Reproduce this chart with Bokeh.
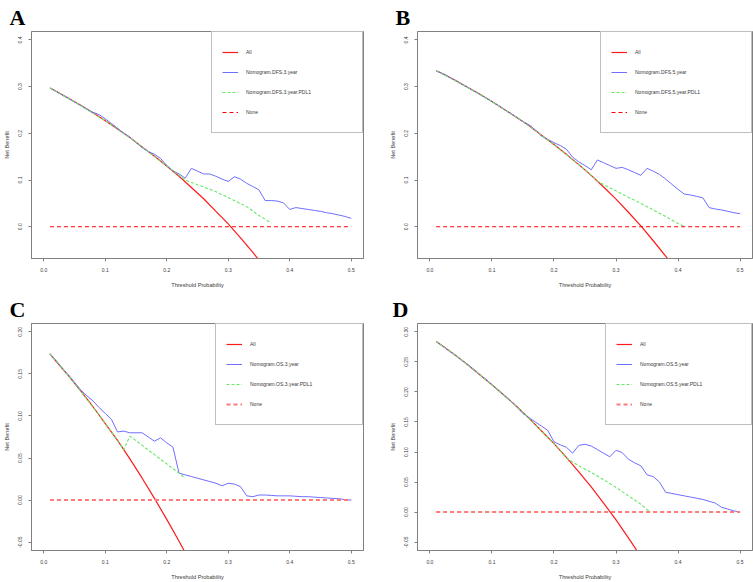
from bokeh.plotting import figure
from bokeh.layouts import gridplot
from bokeh.models import Range1d, FixedTicker, PrintfTickFormatter, Legend, LegendItem
from bokeh.embed import file_html
from bokeh.resources import INLINE

# ---------------- data ----------------
thresholds = [0.01, 0.02, 0.03, 0.04, 0.05, 0.06, 0.07, 0.08, 0.09, 0.10,
              0.11, 0.12, 0.13, 0.14, 0.15, 0.16, 0.17, 0.18, 0.19, 0.20,
              0.21, 0.22, 0.23, 0.24, 0.25, 0.26, 0.27, 0.28, 0.29, 0.30,
              0.31, 0.32, 0.33, 0.34, 0.35, 0.36, 0.37, 0.38, 0.39, 0.40,
              0.41, 0.42, 0.43, 0.44, 0.45, 0.46, 0.47, 0.48, 0.49, 0.50]

x_ticks = [0.0, 0.1, 0.2, 0.3, 0.4, 0.5]
none_x = [0.01, 0.50]
none_y = [0.0, 0.0]

# Panel A (DFS 3 year)
A_all_x = [0.01, 0.02, 0.04, 0.06, 0.08, 0.10, 0.12, 0.14, 0.16, 0.18, 0.20, 0.22, 0.24, 0.26, 0.28, 0.30, 0.32, 0.34, 0.36]
A_all_y = [0.297, 0.290, 0.275, 0.260, 0.244, 0.227, 0.209, 0.191, 0.171, 0.151, 0.130, 0.108, 0.084, 0.060, 0.033, 0.006, -0.024, -0.055, -0.088]
A_nom_y = [0.297, 0.290, 0.282, 0.275, 0.267, 0.260, 0.252, 0.245, 0.240, 0.231,
           0.221, 0.211, 0.200, 0.192, 0.180, 0.169, 0.161, 0.155, 0.146, 0.131,
           0.120, 0.113, 0.104, 0.125, 0.119, 0.113, 0.113, 0.108, 0.102, 0.097,
           0.107, 0.102, 0.093, 0.086, 0.079, 0.056, 0.056, 0.055, 0.051, 0.037,
           0.041, 0.039, 0.037, 0.035, 0.033, 0.030, 0.028, 0.025, 0.022, 0.018]
A_pdl_x = [0.01, 0.05, 0.10, 0.15, 0.20, 0.23, 0.25, 0.28, 0.31, 0.33, 0.35, 0.37]
A_pdl_y = [0.297, 0.267, 0.227, 0.181, 0.130, 0.100, 0.090, 0.075, 0.056, 0.043, 0.024, 0.008]
A_y_ticks = [0.0, 0.1, 0.2, 0.3, 0.4]

# Panel B (DFS 5 year)
B_all_x = [0.01, 0.02, 0.04, 0.06, 0.08, 0.10, 0.12, 0.14, 0.16, 0.18, 0.20, 0.22, 0.24, 0.26, 0.28, 0.30, 0.32, 0.34, 0.36, 0.38, 0.40]
B_all_y = [0.334, 0.328, 0.314, 0.299, 0.284, 0.268, 0.251, 0.234, 0.216, 0.196, 0.176, 0.155, 0.133, 0.110, 0.085, 0.059, 0.031, 0.002, -0.030, -0.063, -0.098]
B_nom_y = [0.334, 0.328, 0.321, 0.314, 0.306, 0.299, 0.291, 0.284, 0.276, 0.268,
           0.260, 0.251, 0.243, 0.234, 0.225, 0.218, 0.207, 0.194, 0.187, 0.180,
           0.174, 0.166, 0.149, 0.139, 0.131, 0.122, 0.143, 0.137, 0.131, 0.125,
           0.127, 0.122, 0.116, 0.110, 0.125, 0.119, 0.112, 0.102, 0.091, 0.080,
           0.070, 0.068, 0.065, 0.062, 0.041, 0.038, 0.036, 0.033, 0.030, 0.028]
B_pdl_x = [0.01, 0.05, 0.10, 0.15, 0.20, 0.24, 0.26, 0.27, 0.28, 0.30, 0.32, 0.34, 0.36, 0.38, 0.40, 0.41]
B_pdl_y = [0.334, 0.306, 0.268, 0.225, 0.176, 0.133, 0.110, 0.098, 0.090, 0.077, 0.063, 0.050, 0.036, 0.022, 0.007, 0.001]
B_y_ticks = [0.0, 0.1, 0.2, 0.3, 0.4]

# Panel C (OS 3 year)
C_all_x = [0.01, 0.02, 0.04, 0.06, 0.08, 0.10, 0.12, 0.14, 0.16, 0.18, 0.20, 0.22, 0.24]
C_all_y = [0.174, 0.165, 0.148, 0.130, 0.111, 0.091, 0.071, 0.049, 0.026, 0.002, -0.023, -0.049, -0.076]
C_nom_y = [0.174, 0.166, 0.157, 0.149, 0.140, 0.131, 0.124, 0.118, 0.110, 0.103,
           0.096, 0.081, 0.082, 0.080, 0.080, 0.080, 0.075, 0.070, 0.074, 0.068,
           0.063, 0.032, 0.030, 0.028, 0.026, 0.024, 0.022, 0.020, 0.017, 0.020,
           0.019, 0.016, 0.005, 0.004, 0.006, 0.006, 0.0055, 0.005, 0.005, 0.005,
           0.0045, 0.004, 0.004, 0.0035, 0.003, 0.0025, 0.002, 0.0015, 0.0005, 0.0]
C_pdl_x = [0.01, 0.03, 0.05, 0.07, 0.09, 0.11, 0.13, 0.14, 0.16, 0.18, 0.20, 0.22, 0.23]
C_pdl_y = [0.174, 0.157, 0.139, 0.120, 0.101, 0.081, 0.060, 0.076, 0.065, 0.054, 0.043, 0.032, 0.026]
C_y_ticks = [-0.05, 0.0, 0.05, 0.10, 0.15, 0.20]

# Panel D (OS 5 year)
D_all_x = [0.01, 0.02, 0.04, 0.06, 0.08, 0.10, 0.12, 0.14, 0.16, 0.18, 0.20, 0.22, 0.24, 0.26, 0.28, 0.30, 0.32, 0.34]
D_all_y = [0.284, 0.277, 0.262, 0.246, 0.229, 0.212, 0.194, 0.176, 0.156, 0.135, 0.114, 0.091, 0.067, 0.042, 0.015, -0.013, -0.043, -0.074]
D_nom_y = [0.284, 0.277, 0.269, 0.262, 0.254, 0.246, 0.238, 0.229, 0.221, 0.212,
           0.203, 0.194, 0.185, 0.175, 0.164, 0.157, 0.150, 0.143, 0.136, 0.117,
           0.112, 0.108, 0.098, 0.111, 0.113, 0.110, 0.104, 0.098, 0.092, 0.103,
           0.099, 0.088, 0.082, 0.077, 0.062, 0.059, 0.050, 0.033, 0.031, 0.029,
           0.027, 0.025, 0.023, 0.021, 0.018, 0.015, 0.008, 0.005, 0.002, 0.000]
D_pdl_x = [0.01, 0.05, 0.10, 0.15, 0.20, 0.22, 0.24, 0.26, 0.28, 0.30, 0.32, 0.34, 0.355]
D_pdl_y = [0.284, 0.254, 0.212, 0.166, 0.114, 0.090, 0.077, 0.066, 0.054, 0.041, 0.027, 0.013, 0.000]
D_y_ticks = [-0.05, 0.0, 0.05, 0.10, 0.15, 0.20, 0.25, 0.30]

FONT = "Liberation Sans"
GRAY = "#808080"
TXT = "#3a3a3a"


def panel(letter, all_x, all_y, nom_y, pdl_x, pdl_y, names, ylim, yticks, fmt,
          width, height, bl, br, bt, bb, title_off, none_color, none_width, legend_lw):
    p = figure(width=width, height=height, output_backend="svg", toolbar_location=None,
               x_range=Range1d(-0.02, 0.52), y_range=Range1d(*ylim),
               min_border_left=bl, min_border_right=br, min_border_top=bt, min_border_bottom=bb,
               title=letter)
    p.title.text_font = "Liberation Serif"
    p.title.text_font_style = "bold"
    p.title.text_font_size = "22px"
    p.title.text_color = "black"
    p.title.align = "left"
    p.title.offset = title_off
    p.title.standoff = 4
    p.grid.visible = False
    p.outline_line_color = GRAY
    p.outline_line_width = 1
    p.background_fill_color = "white"
    p.border_fill_color = "white"

    for ax in (p.xaxis[0], p.yaxis[0]):
        ax.axis_line_color = GRAY
        ax.major_tick_line_color = GRAY
        ax.minor_tick_line_color = None
        ax.major_tick_in = 0
        ax.major_tick_out = 3
        ax.major_label_text_font = FONT
        ax.major_label_text_font_size = "5px"
        ax.major_label_text_color = TXT
        ax.major_label_standoff = 6
        ax.axis_label_text_font = FONT
        ax.axis_label_text_font_size = "5.6px"
        ax.axis_label_text_font_style = "normal"
        ax.axis_label_text_color = TXT
    p.xaxis.ticker = FixedTicker(ticks=x_ticks)
    p.xaxis.formatter = PrintfTickFormatter(format="%.1f")
    p.xaxis.axis_label = "Threshold Probability"
    p.xaxis.axis_label_standoff = 7
    p.yaxis.ticker = FixedTicker(ticks=yticks)
    p.yaxis.formatter = PrintfTickFormatter(format=fmt)
    p.yaxis.major_label_orientation = "vertical"
    p.yaxis.axis_label = "Net Benefit"
    p.yaxis.axis_label_standoff = 6

    r_all = p.line(all_x, all_y, line_color="#ff1a1a", line_width=1.2)
    r_nom = p.line(thresholds, nom_y, line_color="#6e6eff", line_width=1)
    r_pdl = p.line(pdl_x, pdl_y, line_color="#66e866", line_width=1.1, line_dash="3 2")
    r_none = p.line(none_x, none_y, line_color=none_color, line_width=none_width, line_dash="4 3")

    legend = Legend(items=[LegendItem(label="All", renderers=[r_all]),
                           LegendItem(label=names[0], renderers=[r_nom]),
                           LegendItem(label=names[1], renderers=[r_pdl]),
                           LegendItem(label="None", renderers=[r_none])],
                    location="top_right", margin=0, padding=10, spacing=0,
                    label_height=20, glyph_height=20, glyph_width=16, label_standoff=8,
                    label_width=legend_lw, border_line_color=GRAY, border_line_width=1,
                    background_fill_color="white", background_fill_alpha=1.0,
                    label_text_font=FONT, label_text_font_size="5px", label_text_color=TXT)
    p.add_layout(legend)
    return p


pA = panel("A", A_all_x, A_all_y, A_nom_y, A_pdl_x, A_pdl_y,
           ["Nomogram.DFS.3.year", "Nomogram.DFS.3.year.PDL1"], (-0.068, 0.418), A_y_ticks, "%.1f",
           376, 290, 26, 13, 30, 30, -22, "#ff0000", 1, 106)
pB = panel("B", B_all_x, B_all_y, B_nom_y, B_pdl_x, B_pdl_y,
           ["Nomogram.DFS.5.year", "Nomogram.DFS.5.year.PDL1"], (-0.068, 0.418), B_y_ticks, "%.1f",
           377, 290, 41, 1, 30, 30, -22, "#ff0000", 1, 106)
pC = panel("C", C_all_x, C_all_y, C_nom_y, C_pdl_x, C_pdl_y,
           ["Nomogram.OS.3.year", "Nomogram.OS.3.year.PDL1"], (-0.06, 0.21), C_y_ticks, "%.2f",
           376, 292, 26, 13, 33, 29, -22, "#ff7a7a", 2, 102)
pD = panel("D", D_all_x, D_all_y, D_nom_y, D_pdl_x, D_pdl_y,
           ["Nomogram.OS.5.year", "Nomogram.OS.5.year.PDL1"], (-0.064, 0.314), D_y_ticks, "%.2f",
           377, 292, 41, 1, 33, 29, -25, "#ff7a7a", 2, 101)

grid = gridplot([[pA, pB], [pC, pD]], toolbar_location=None)
open("out.html", "w").write(file_html(grid, INLINE))
